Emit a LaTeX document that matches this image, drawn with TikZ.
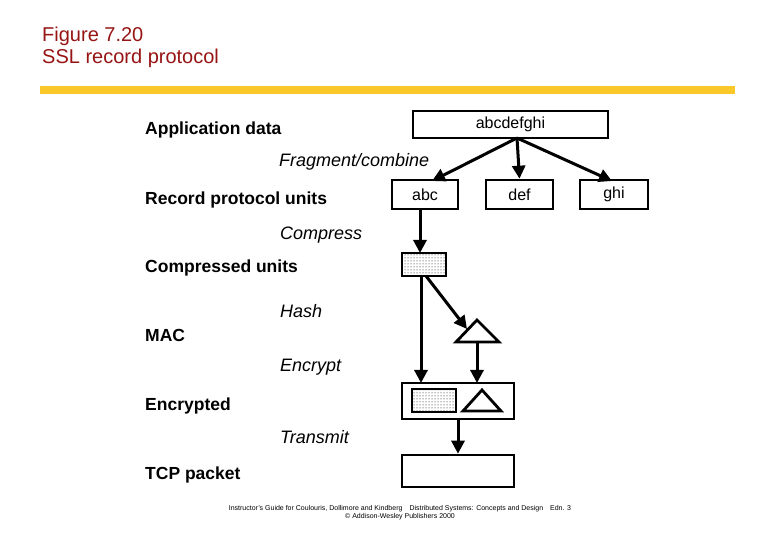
\documentclass[tikz,border=0pt]{standalone}
\usepackage{fontspec}
\setmainfont{Liberation Sans}
\usetikzlibrary{patterns,arrows.meta}
\definecolor{titlered}{RGB}{150,20,20}
\definecolor{baryellow}{RGB}{250,200,40}
\begin{document}
\begin{tikzpicture}[x=1pt,y=-1pt,
  lbl/.style={anchor=west,font=\fontsize{17.5}{20}\selectfont\bfseries,inner sep=0},
  ital/.style={anchor=west,font=\fontsize{18}{20}\selectfont\itshape,inner sep=0},
  box/.style={draw,line width=2.6pt,inner sep=0,font=\fontsize{16}{18}\selectfont},
  arr/.style={line width=3pt,-{Triangle[length=13pt,width=13pt]}},
  tri/.style={draw,line width=2.8pt}]
\useasboundingbox (0,0) rectangle (780,540);
\node[anchor=west,text=titlered,font=\fontsize{20}{22}\selectfont,inner sep=0] (t1) at (42,36) {Figure 7.20};
\node[anchor=west,text=titlered,font=\fontsize{20}{22}\selectfont,inner sep=0] (t2) at (42,58) {SSL record protocol};
\fill[baryellow] (40,86) rectangle (735,94);
\node[lbl] (l1) at (145,130) {Application data};
\node[ital] (l2) at (279,162) {Fragment/combine};
\node[lbl] (l3) at (145,200) {Record protocol units};
\node[ital] (l4) at (280,235) {Compress};
\node[lbl] (l5) at (145,268) {Compressed units};
\node[ital] (l6) at (280,311) {Hash};
\node[lbl] (l7) at (145,335) {MAC};
\node[ital] (l8) at (280,367) {Encrypt};
\node[lbl] (l9) at (145,406) {Encrypted};
\node[ital] (l10) at (280,437) {Transmit};
\node[lbl] (l11) at (145,475) {TCP packet};
\node[box,minimum width=195pt,minimum height=27pt] (all) at (510.5,124.5) {abcdefghi};
\node[box,minimum width=66pt,minimum height=29pt] (abc) at (425,194.5) {abc};
\node[box,minimum width=67pt,minimum height=29pt] (def) at (519.5,194.5) {def};
\node[box,minimum width=68pt,minimum height=29pt] (ghi) at (614,194.5) {ghi};
\node[box,pattern=dots,minimum width=44pt,minimum height=23pt] (cmp) at (424,264.5) {};
\draw[tri] (477,320) coordinate (hapex) -- (499,342) -- (456,342) -- cycle;
\coordinate (hbot) at (477,342);
\node[box,minimum width=112pt,minimum height=36pt] (enc) at (458,401) {};
\node[box,pattern=dots,minimum width=44pt,minimum height=23pt] (encd) at (434,400.5) {};
\draw[tri] (482,390) -- (501,411) -- (463,411) -- cycle;
\node[box,minimum width=112pt,minimum height=32pt] (tcp) at (458,471) {};
\draw[arr] (517,138) -- (432,181);
\draw[arr] (517,138) -- (def.north);
\draw[arr] (517,138) -- (612,181);
\draw[arr] (420,209) -- (420,253);
\draw[arr] (421,276) -- (421,383);
\draw[arr] (426,276) -- (467,329);
\draw[arr] (hbot) -- (477,383);
\draw[arr] (enc.south) -- (tcp.north);
\node[font=\fontsize{7}{8}\selectfont\rmfamily,align=center,inner sep=0] (foot) at (400,513) {Instructor's Guide for Coulouris, Dollimore and Kindberg\quad Distributed Systems: Concepts and Design\quad Edn. 3\\ \copyright\ Addison-Wesley Publishers 2000};
\end{tikzpicture}
\end{document}
